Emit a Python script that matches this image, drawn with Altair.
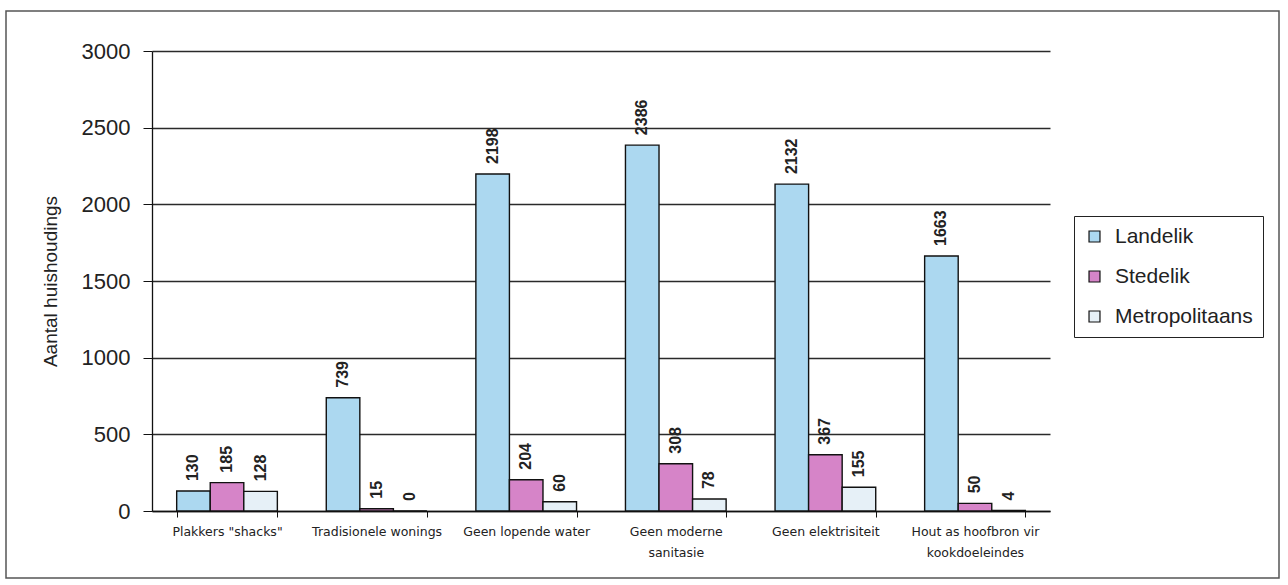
import altair as alt
import pandas as pd

# Household counts per dwelling condition, split by settlement type
categories = [
    'Plakkers "shacks"',
    "Tradisionele wonings",
    "Geen lopende water",
    "Geen moderne sanitasie",
    "Geen elektrisiteit",
    "Hout as hoofbron vir kookdoeleindes",
]
series = ["Landelik", "Stedelik", "Metropolitaans"]
landelik = [130, 739, 2198, 2386, 2132, 1663]
stedelik = [185, 15, 204, 308, 367, 50]
metropolitaans = [128, 0, 60, 78, 155, 4]
y_ticks = [0, 500, 1000, 1500, 2000, 2500, 3000]
colors = ["#acd8f0", "#d684c8", "#e6f0f7"]

# Category names that wrap onto two lines under the axis
wrapped = {
    "Geen moderne sanitasie": ["Geen moderne", "sanitasie"],
    "Hout as hoofbron vir kookdoeleindes": ["Hout as hoofbron vir", "kookdoeleindes"],
}

rows = []
for name, values in zip(series, [landelik, stedelik, metropolitaans]):
    for cat, v in zip(categories, values):
        rows.append({"kategorie": cat, "reeks": name, "waarde": v})
df = pd.DataFrame(rows)

label_expr = "datum.label"
for full, lines in wrapped.items():
    arr = "[" + ", ".join("'" + s + "'" for s in lines) + "]"
    label_expr = f"datum.label == '{full}' ? {arr} : ({label_expr})"

base = alt.Chart(df).encode(
    x=alt.X(
        "kategorie:N",
        sort=categories,
        scale=alt.Scale(paddingInner=0.327, paddingOuter=0.165),
        axis=alt.Axis(
            title=None,
            labelAngle=0,
            tickBand="extent",
            labelExpr=label_expr,
            labelFont="DejaVu Sans",
            labelFontSize=12.5,
            labelColor="#222222",
            labelLineHeight=21,
            labelLimit=300,
            tickSize=6,
            labelPadding=8,
            domainColor="#111111",
            domainWidth=1.3,
            tickColor="#111111",
            grid=False,
        ),
    ),
    xOffset=alt.XOffset("reeks:N", sort=series,
                        scale=alt.Scale(paddingInner=0, paddingOuter=0)),
)

bars = base.mark_bar(stroke="#111111", strokeWidth=1.4).encode(
    y=alt.Y(
        "waarde:Q",
        scale=alt.Scale(domain=[0, 3000], nice=False),
        axis=alt.Axis(
            values=y_ticks,
            format="d",
            title="Aantal huishoudings",
            titleFont="Liberation Sans",
            titleFontSize=19,
            titleFontWeight="normal",
            titleColor="#222222",
            titleX=-102,
            titleY=230,
            titleAngle=270,
            titleAlign="center",
            titleBaseline="middle",
            labelFont="Liberation Sans",
            labelFontSize=22,
            labelColor="#222222",
            tickSize=9,
            labelPadding=13,
            domainColor="#111111",
            domainWidth=1.3,
            tickColor="#111111",
            gridColor="#2a2a2a",
            gridWidth=1.3,
        ),
    ),
    color=alt.Color(
        "reeks:N",
        scale=alt.Scale(domain=series, range=colors),
        legend=alt.Legend(
            title=None,
            orient="none",
            legendX=922,
            legendY=165,
            strokeColor="#222222",
            padding=10,
            rowPadding=18,
            symbolType="square",
            symbolSize=120,
            symbolStrokeColor="#111111",
            symbolStrokeWidth=1.2,
            labelFont="Liberation Sans",
            labelFontSize=21,
            labelColor="#222222",
            labelOffset=10,
        ),
    ),
)

labels = base.mark_text(
    angle=270,
    align="left",
    baseline="middle",
    dx=10,
    font="Liberation Sans",
    fontSize=16,
    fontWeight="bold",
    color="#222222",
).encode(y="waarde:Q", text="waarde:Q")

# Border around the whole figure
frame = alt.Chart(pd.DataFrame({"k": [0]})).mark_rect(
    fillOpacity=0, stroke="#555555", strokeWidth=1.5
).encode(
    x=alt.value(-146), x2=alt.value(1127), y=alt.value(-40), y2=alt.value(527)
)

chart = (
    alt.layer(frame, bars, labels)
    .properties(
        width=898,
        height=460,
        autosize=alt.AutoSizeParams(type="none"),
        padding={"left": 152, "top": 51, "right": 238, "bottom": 74},
        background="white",
    )
    .configure_view(stroke=None)
)

chart.save("out.html", embed_options={"renderer": "svg", "actions": False})
